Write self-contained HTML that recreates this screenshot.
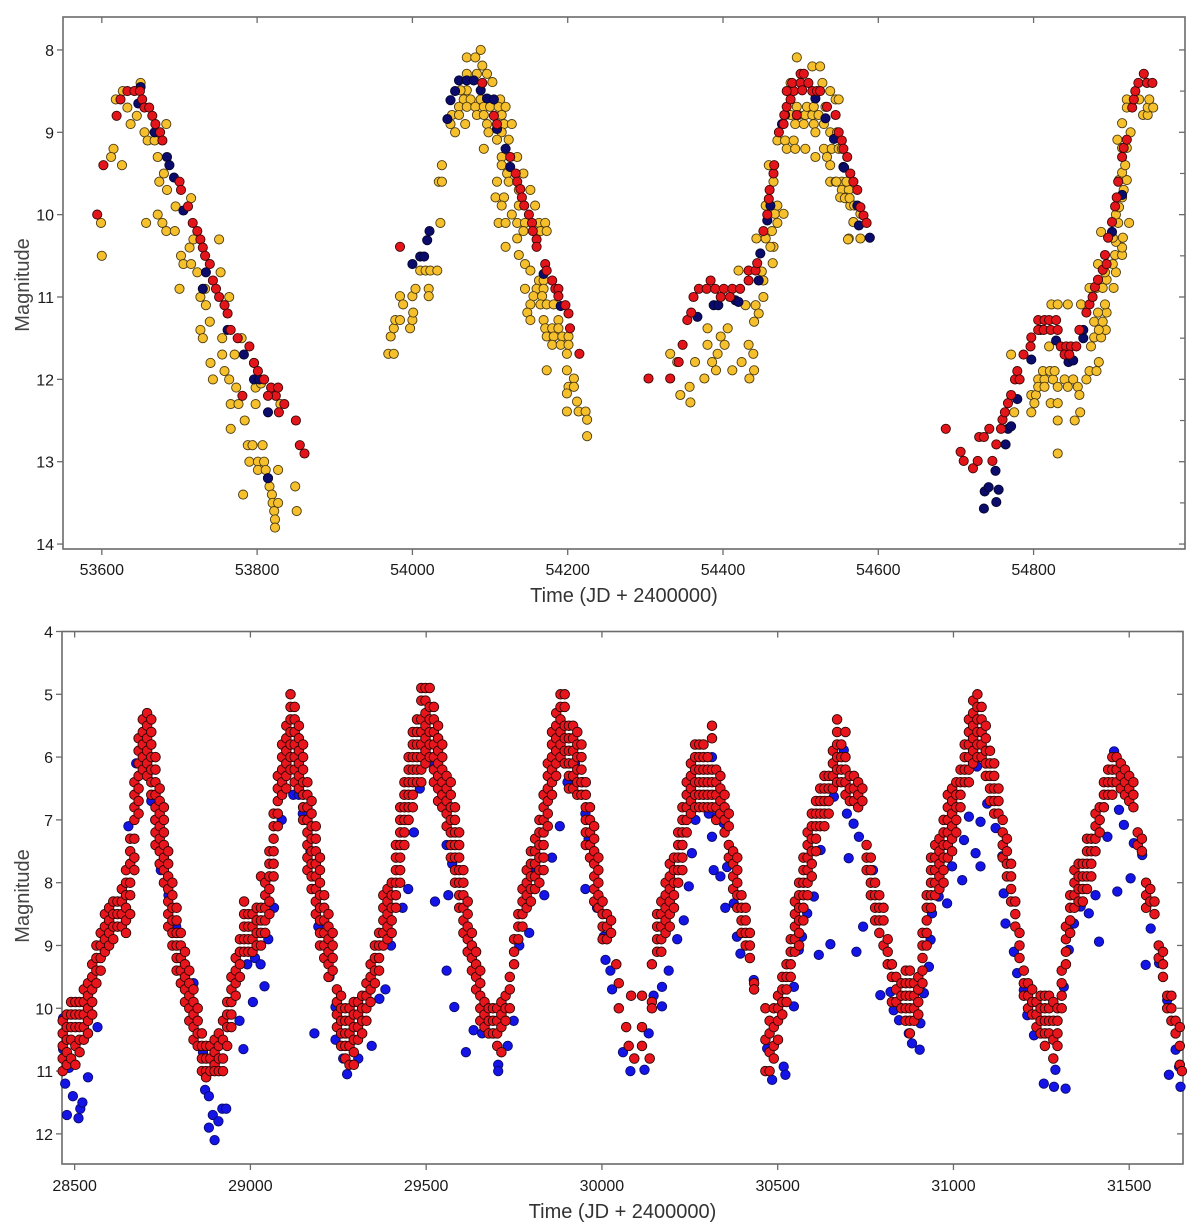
<!DOCTYPE html>
<html><head><meta charset="utf-8"><style>
html,body{margin:0;padding:0;background:#fff;}
svg{display:block;}
text{font-family:"Liberation Sans",Arial,sans-serif;}
</style></head><body>
<svg id="chart" width="1200" height="1222" viewBox="0 0 1200 1222" xmlns="http://www.w3.org/2000/svg">
<rect x="0" y="0" width="1200" height="1222" fill="#fff"/>
<g id="top-panel"></g>
<g id="bottom-panel"></g>
</svg>
<script>
// ---------- TOP PANEL DATA ----------
const topXTicks = [53600, 53800, 54000, 54200, 54400, 54600, 54800];
const topYTicks = [8, 9, 10, 11, 12, 13, 14];
const topYellow = [
[53599,10.1],[53600,10.5],[53615,9.2],[53612,9.3],[53626,9.4],[53618,8.6],[53627,8.5],[53633,8.7],[53637,8.9],[53645,8.8],[53650,8.4],[53655,9.0],[53659,9.1],[53657,10.1],[53668,9.1],[53672,9.3],[53672,10.0],[53674,9.6],[53680,9.5],[53683,8.9],[53684,9.7],[53678,10.1],[53683,10.2],[53694,10.2],[53695,9.9],[53702,10.5],[53705,10.6],[53700,10.9],[53715,10.6],[53713,10.4],[53715,9.8],[53718,10.3],[53723,10.7],[53727,11.0],[53733,10.9],[53727,11.4],[53734,11.1],[53739,11.3],[53740,11.8],[53743,12.0],[53730,11.5],[53751,10.3],[53753,10.7],[53755,11.5],[53755,11.7],[53758,11.9],[53764,11.0],[53764,12.0],[53766,12.3],[53766,12.6],[53771,11.7],[53773,12.1],[53776,12.3],[53780,11.5],[53784,12.5],[53782,13.4],[53788,12.8],[53790,13.0],[53794,12.8],[53796,11.8],[53798,12.1],[53798,12.3],[53801,13.0],[53801,13.1],[53807,12.8],[53809,13.0],[53811,13.1],[53814,13.2],[53816,13.3],[53819,13.4],[53820,13.5],[53822,13.6],[53823,13.7],[53823,13.8],[53827,13.5],[53827,13.1],[53830,12.3],[53849,13.3],[53851,13.6],[53805,12.05],
[53969,11.69],[53976,11.69],[53972,11.48],[53976,11.38],[53978,11.28],[53984,11.28],[53984,10.99],[53988,11.09],[54000,10.99],[53997,11.38],[54000,11.28],[54001,11.19],[54004,10.9],[54010,10.68],[54017,10.68],[54023,10.68],[54032,10.68],[54021,10.9],[54021,10.99],[54036,10.1],[54034,9.6],[54038,9.6],[54038,9.4],
[54088,8.0],[54070,8.09],[54081,8.09],[54090,8.19],[54070,8.29],[54083,8.29],[54096,8.29],[54103,8.39],[54070,8.49],[54062,8.49],[54066,8.6],[54075,8.6],[54088,8.6],[54098,8.6],[54113,8.6],[54060,8.69],[54070,8.69],[54081,8.69],[54092,8.69],[54100,8.69],[54111,8.69],[54120,8.69],[54051,8.79],[54060,8.79],[54083,8.79],[54092,8.79],[54115,8.79],[54049,8.9],[54068,8.9],[54096,8.9],[54118,8.9],[54128,8.9],[54055,9.0],[54098,9.0],[54115,9.0],[54109,9.09],[54124,9.09],[54092,9.2],[54115,9.3],[54135,9.3],[54115,9.4],[54122,9.5],[54143,9.5],[54109,9.6],[54124,9.6],[54137,9.7],[54152,9.7],[54107,9.79],[54118,9.79],[54115,9.89],[54137,9.89],[54158,9.89],[54128,10.0],[54111,10.1],[54120,10.1],[54135,10.1],[54145,10.1],[54163,10.1],[54171,10.1],[54143,10.2],[54165,10.2],[54173,10.2],[54135,10.29],[54120,10.39],[54137,10.49],[54145,10.6],[54152,10.68],[54163,10.8],[54169,10.8],[54145,10.9],[54160,10.9],[54169,10.9],[54156,10.99],[54167,10.99],[54152,11.09],[54165,11.09],[54173,11.09],[54182,11.09],[54148,11.19],[54152,11.28],[54169,11.28],[54188,11.28],[54171,11.38],[54180,11.38],[54188,11.38],[54173,11.48],[54182,11.48],[54193,11.48],[54201,11.48],[54180,11.58],[54191,11.58],[54201,11.58],[54199,11.69],[54173,11.89],[54199,11.89],[54208,11.99],[54201,12.09],[54208,12.09],[54199,12.17],[54212,12.27],[54199,12.39],[54214,12.39],[54223,12.39],[54225,12.49],[54225,12.69],
[54345,12.19],[54358,12.28],[54357,12.09],[54332,11.69],[54341,11.79],[54364,11.79],[54376,11.99],[54380,11.58],[54380,11.38],[54391,11.89],[54386,11.79],[54393,11.69],[54397,11.48],[54406,11.38],[54402,11.58],[54412,11.89],[54424,11.79],[54433,11.58],[54439,11.69],[54440,11.89],[54434,11.99],[54429,11.1],[54442,11.1],[54440,11.3],[54446,11.2],[54452,11.0],[54452,10.8],[54420,10.68],[54450,10.69],[54464,10.59],[54465,10.39],[54461,10.39],[54443,10.29],[54455,10.29],[54463,10.2],[54470,10.1],[54467,9.99],[54478,9.99],[54470,9.89],[54455,9.89],[54465,9.6],[54459,9.4],[54470,9.1],[54480,9.1],[54491,9.1],[54482,9.2],[54493,9.2],[54506,9.2],[54487,8.79],[54497,8.79],[54506,8.79],[54515,8.79],[54523,8.79],[54530,8.9],[54493,8.9],[54504,8.9],[54517,8.9],[54495,8.69],[54508,8.69],[54517,8.69],[54532,8.69],[54545,8.6],[54549,8.6],[54538,8.5],[54528,8.4],[54515,8.2],[54525,8.2],[54495,8.09],[54487,8.4],[54519,9.0],[54538,9.0],[54547,9.0],[54530,9.2],[54540,9.2],[54549,9.2],[54519,9.3],[54534,9.3],[54538,9.4],[54538,9.6],[54545,9.6],[54553,9.6],[54553,9.7],[54562,9.7],[54551,9.79],[54558,9.79],[54564,9.89],[54577,9.99],[54568,10.09],[54562,10.29],[54577,10.29],[54553,9.2],[54546,9.6],[54559,9.6],[54557,9.8],[54563,9.8],[54569,9.89],[54561,10.3],[54568,10.09],
[54831,12.9],[54797,12.4],[54775,12.4],[54797,12.19],[54803,12.19],[54801,12.29],[54771,11.7],[54806,12.0],[54814,12.0],[54825,12.0],[54840,12.0],[54851,12.0],[54806,12.09],[54814,12.09],[54831,12.09],[54844,12.09],[54857,12.09],[54812,11.9],[54821,11.9],[54827,11.9],[54822,12.29],[54831,12.29],[54859,12.19],[54831,12.5],[54853,12.5],[54860,12.4],[54868,12.0],[54872,11.9],[54881,11.9],[54884,11.79],[54874,11.6],[54878,11.49],[54887,11.49],[54893,11.4],[54884,11.4],[54878,11.3],[54889,11.3],[54894,11.19],[54883,11.19],[54892,11.09],[54823,11.09],[54831,11.09],[54844,11.09],[54861,11.09],[54820,11.6],[54872,10.89],[54881,10.89],[54889,10.89],[54894,10.79],[54903,10.89],[54892,10.7],[54906,10.7],[54883,10.6],[54902,10.6],[54905,10.49],[54914,10.49],[54914,10.4],[54906,10.33],[54887,10.21],[54902,10.28],[54915,10.28],[54909,10.1],[54923,10.1],[54906,10.0],[54910,9.91],[54914,9.79],[54916,9.7],[54910,9.58],[54920,9.58],[54914,9.49],[54918,9.4],[54914,9.19],[54920,9.19],[54908,9.09],[54925,9.0],[54914,8.89],[54920,8.6],[54920,8.7],[54941,8.79],[54947,8.79],[54947,8.7],[54954,8.7],[54949,8.6],[54936,8.6]
];
const topNavy = [
[53650,8.45],[53647,8.65],[53668,9.0],[53684,9.3],[53687,9.4],[53693,9.55],[53705,9.95],[53730,10.9],[53734,10.7],[53762,11.4],[53783,11.7],[53796,12.0],[53803,12.0],[53814,12.4],[53814,13.2],
[54022,10.2],[54019,10.31],[54010,10.51],[54015,10.51],[54000,10.6],[54045,8.84],[54049,8.61],[54055,8.5],[54060,8.37],[54070,8.37],[54079,8.37],[54088,8.49],[54096,8.59],[54105,8.6],[54109,8.96],[54120,9.2],[54126,9.42],[54169,10.72],[54191,11.11],
[54367,11.24],[54388,11.1],[54394,11.1],[54416,11.04],[54420,11.06],[54457,10.07],[54448,10.47],[54461,9.89],[54476,8.9],[54480,8.79],[54519,8.59],[54532,8.83],[54543,9.08],[54555,9.42],[54573,9.89],[54575,10.13],[54589,10.28],[54446,10.8],[54556,9.43],
[54736,13.57],[54737,13.36],[54742,13.31],[54752,13.49],[54755,13.34],[54751,13.11],[54764,12.79],[54767,12.6],[54771,12.57],[54779,12.24],[54797,11.76],[54809,11.4],[54829,11.53],[54845,11.79],[54851,11.77],[54864,11.5],[54864,11.4],[54901,10.21],[54914,9.76]
];
const topRed = [
[53594,10.0],[53602,9.4],[53619,8.8],[53624,8.6],[53633,8.5],[53642,8.5],[53649,8.5],[53652,8.6],[53655,8.7],[53661,8.7],[53665,8.8],[53669,8.9],[53675,9.0],[53678,9.1],[53700,9.6],[53702,9.7],[53711,9.9],[53717,10.1],[53723,10.2],[53727,10.3],[53730,10.4],[53733,10.5],[53739,10.6],[53743,10.8],[53747,10.9],[53751,11.0],[53758,11.1],[53762,11.2],[53766,11.4],[53775,11.5],[53790,11.6],[53796,11.8],[53801,11.9],[53809,12.0],[53818,12.1],[53824,12.2],[53828,12.4],[53835,12.3],[53850,12.5],[53855,12.8],[53861,12.9],[53781,12.2],[53827,12.1],[53814,12.2],
[53984,10.39],[54090,8.4],[54105,8.8],[54109,8.9],[54126,9.3],[54133,9.5],[54135,9.6],[54139,9.69],[54141,9.79],[54144,9.89],[54150,10.0],[54154,10.1],[54155,10.2],[54160,10.3],[54160,10.39],[54171,10.6],[54173,10.68],[54180,10.8],[54184,10.9],[54188,10.9],[54188,10.99],[54197,11.1],[54201,11.2],[54203,11.38],[54215,11.69],
[54304,11.99],[54332,11.99],[54343,11.79],[54348,11.58],[54354,11.28],[54359,11.19],[54362,11.0],[54369,10.9],[54379,10.9],[54390,10.9],[54401,10.9],[54412,10.9],[54422,10.9],[54384,10.8],[54397,11.0],[54409,11.0],[54433,10.8],[54433,10.68],[54442,10.68],[54444,10.59],[54452,10.2],[54457,10.0],[54459,9.81],[54460,9.7],[54465,9.5],[54466,9.4],[54472,9.0],[54478,8.9],[54479,8.79],[54482,8.69],[54487,8.6],[54491,8.5],[54489,8.4],[54500,8.4],[54510,8.4],[54500,8.29],[54504,8.29],[54515,8.5],[54521,8.5],[54525,8.5],[54534,8.69],[54545,8.79],[54549,9.0],[54553,9.1],[54555,9.2],[54560,9.3],[54564,9.5],[54568,9.6],[54573,9.7],[54577,9.91],[54581,10.01],[54585,10.1],[54502,8.49],[54482,8.5],[54495,8.79],
[54687,12.6],[54706,12.88],[54710,12.99],[54722,13.08],[54728,12.99],[54730,12.7],[54736,12.7],[54743,12.6],[54747,12.99],[54752,12.79],[54758,12.6],[54760,12.49],[54763,12.4],[54767,12.29],[54771,12.19],[54776,12.0],[54779,11.9],[54782,12.0],[54787,11.7],[54796,11.6],[54797,11.49],[54806,11.4],[54806,11.28],[54814,11.28],[54820,11.28],[54829,11.28],[54813,11.4],[54822,11.4],[54831,11.4],[54835,11.6],[54842,11.6],[54848,11.6],[54855,11.6],[54840,11.7],[54846,11.7],[54859,11.4],[54868,11.19],[54872,11.09],[54876,11.0],[54879,10.88],[54883,10.79],[54889,10.67],[54892,10.49],[54894,10.6],[54896,10.28],[54901,10.09],[54905,9.9],[54907,9.79],[54909,9.6],[54914,9.3],[54916,9.19],[54920,9.09],[54927,8.7],[54929,8.6],[54931,8.5],[54935,8.4],[54942,8.29],[54946,8.4],[54953,8.4]
];

// ---------- BOTTOM PANEL DATA ----------
const botXTicks = [28500, 29000, 29500, 30000, 30500, 31000, 31500];
const botYTicks = [4, 5, 6, 7, 8, 9, 10, 11, 12];
// rows: [time, magnitude, magnitude, ...]
const redCycle1 = [
[28466,10.2,10.4,10.6,10.8,11.0],[28478,10.1,10.3,10.5,10.7,10.9],[28490,9.9,10.1,10.3,10.5,10.8],[28502,9.9,10.1,10.3,10.6,10.9],[28514,9.9,10.1,10.3,10.5,10.7],[28526,9.7,9.9,10.1,10.3,10.5],[28538,9.6,9.8,10.0,10.2,10.4],[28550,9.3,9.5,9.7,9.9,10.1],[28562,9.0,9.2,9.4,9.6],[28574,8.8,9.0,9.2,9.4],[28586,8.5,8.7,8.9,9.1],[28598,8.4,8.6,8.8,9.0],[28610,8.3,8.5,8.7,8.9],[28622,8.3,8.5,8.7],[28634,8.1,8.3,8.5,8.7],[28646,7.8,8.0,8.2,8.4,8.6,8.8],[28658,7.3,7.5,7.7,8.0,8.2,8.5],[28670,6.4,6.6,6.8,7.0,7.3,7.6,7.8],[28682,5.7,5.9,6.1,6.3,6.5,6.7,6.9],[28694,5.4,5.6,5.8,6.0,6.2],[28706,5.3,5.5,5.7,5.9,6.1,6.3],[28718,5.4,5.6,5.8,6.0,6.2,6.4,6.6],[28730,6.0,6.2,6.4,6.6,6.8,7.0,7.2,7.4],[28742,6.5,6.7,6.9,7.1,7.3,7.5,7.7],[28754,6.8,7.0,7.2,7.4,7.6,7.8,8.0],[28766,7.5,7.7,7.9,8.1,8.3,8.5,8.7],[28778,8.0,8.2,8.4,8.6,8.8,9.0],[28790,8.4,8.6,8.8,9.0,9.2,9.4],[28802,8.8,9.0,9.2,9.4,9.6],[28814,9.1,9.3,9.5,9.7,9.9],[28826,9.4,9.6,9.8,10.0,10.2],[28838,9.7,9.9,10.1,10.3,10.5],[28850,10.0,10.2,10.4,10.6],[28862,10.4,10.6,10.8,11.0],[28874,10.6,10.8,11.0,11.1],[28886,10.6,10.8,11.0],[28898,10.5,10.7,10.9,11.0]
];
const redCycle2 = [
[28910,10.4,10.6,10.8,11.0],[28922,10.2,10.5,10.8,11.0],[28934,9.9,10.1,10.3,10.6],[28946,9.5,9.7,9.9,10.1,10.3],[28958,9.2,9.4,9.6,9.8],[28970,8.9,9.1,9.3,9.5],[28982,8.3,8.5,8.7,8.9,9.1],[28994,8.5,8.7,8.9,9.1],[29006,8.5,8.7,8.9,9.1],[29018,8.4,8.6,8.8,9.0],[29030,7.9,8.4,8.6,8.8,9.0],[29042,8.0,8.2,8.4,8.6,8.8],[29054,7.5,7.7,7.9,8.1,8.3,8.5],[29066,6.9,7.1,7.3,7.5,7.7,7.9],[29078,6.3,6.5,6.7,6.9,7.1],[29090,5.8,6.0,6.2,6.4,6.6],[29102,5.5,5.7,5.9,6.1,6.3,6.5],[29114,5.0,5.2,5.4,5.6,5.8,6.0,6.2],[29126,5.2,5.4,5.6,5.8,6.0,6.2,6.4],[29138,5.5,5.7,5.9,6.1,6.3,6.5],[29150,5.8,6.0,6.2,6.4,6.6,6.8,7.0],[29162,6.4,6.6,6.8,7.0,7.2,7.4,7.6,7.8],[29174,6.7,6.9,7.1,7.3,7.5,7.7,7.9,8.1],[29186,7.1,7.3,7.5,7.7,7.9,8.1,8.3,8.5],[29198,7.6,7.8,8.0,8.2,8.4,8.6,8.8,9.0],[29210,8.2,8.4,8.6,8.8,9.0,9.2],[29222,8.5,8.7,8.9,9.1,9.3,9.5],[29234,8.8,9.0,9.2,9.4],[29246,9.7,9.9,10.1,10.3],[29258,9.8,10.0,10.2,10.4,10.6],[29270,10.0,10.2,10.4,10.6,10.8],[29282,10.0,10.2,10.4,10.6,10.9],[29294,9.9,10.1,10.3,10.5,10.7,10.9]
];
const redCycle3 = [
[29306,9.9,10.1,10.3,10.5],[29318,9.8,10.0,10.2,10.4],[29330,9.6,9.8,10.0,10.2],[29342,9.3,9.5,9.7,9.9],[29354,9.0,9.2,9.4,9.6],[29366,8.8,9.0,9.2,9.4],[29378,8.2,8.4,8.6,8.8,9.0],[29390,8.1,8.3,8.5,8.7,8.9],[29402,8.0,8.2,8.4,8.6,8.8],[29414,7.4,7.6,7.8,8.0,8.2,8.4],[29426,6.8,7.0,7.2,7.4,7.6,7.8,8.0],[29438,6.4,6.6,6.8,7.0,7.2,7.4],[29450,6.0,6.2,6.4,6.6,6.8,7.0],[29462,5.6,5.8,6.0,6.2,6.4,6.6,6.8],[29474,5.4,5.6,5.8,6.0,6.2,6.4],[29486,4.9,5.1,5.4,5.6,5.8,6.0,6.2,6.4],[29498,4.9,5.1,5.3,5.5,5.7,5.9,6.1],[29510,4.9,5.2,5.4,5.6,5.8,6.0],[29522,5.2,5.4,5.6,5.8,6.0,6.2,6.4],[29534,5.5,5.7,5.9,6.1,6.3,6.5,6.7],[29546,5.8,6.0,6.2,6.4,6.6,6.8],[29558,6.3,6.5,6.7,6.9,7.1],[29570,6.4,6.6,6.8,7.0,7.2,7.4,7.6],[29582,6.8,7.0,7.2,7.4,7.6,7.8,8.0],[29594,7.2,7.4,7.6,7.8,8.0,8.2,8.4],[29606,7.8,8.0,8.2,8.4,8.6,8.8],[29618,8.3,8.5,8.7,8.9,9.1],[29630,8.8,9.0,9.2,9.4],[29642,9.1,9.3,9.5,9.7],[29654,9.4,9.6,9.8,10.0,10.2],[29666,9.9,10.1,10.3],[29678,10.0,10.2,10.4],[29690,10.0,10.2,10.4],[29702,10.0,10.2,10.4,10.6],[29714,9.9,10.1,10.3,10.7],[29726,9.8,10.0,10.2],[29738,9.5,9.7,10.0]
];
const redCycle4 = [
[29750,8.9,9.1,9.3],[29762,8.5,8.7,8.9],[29774,8.1,8.3,8.5,8.7],[29786,7.8,8.0,8.2,8.4],[29798,7.5,7.7,7.9,8.1,8.3],[29810,7.3,7.5,7.7,7.9,8.1],[29822,7.0,7.2,7.4,7.6,7.8,8.0],[29834,6.6,6.8,7.0,7.2,7.4,7.6,7.8],[29846,6.1,6.3,6.5,6.7,6.9,7.1],[29858,5.6,5.8,6.0,6.2,6.4,6.6],[29870,5.3,5.5,5.7,5.9,6.1,6.3],[29882,5.0,5.2,5.4,5.6,5.8,6.0],[29894,5.0,5.2,5.5,5.7,5.9,6.1],[29906,5.5,5.7,5.9,6.1,6.3,6.5],[29918,5.5,5.7,5.9,6.1,6.3,6.5],[29930,5.6,5.8,6.0,6.2,6.4,6.6],[29942,5.8,6.0,6.2,6.4,6.6],[29954,6.4,6.6,6.8,7.0,7.2,7.4],[29966,6.8,7.0,7.2,7.4,7.6],[29978,7.1,7.3,7.5,7.7,7.9,8.1,8.3],[29990,7.6,7.8,8.0,8.2,8.4],[30002,8.3,8.5,8.7,8.9],[30014,8.5,8.7,8.9],[30026,8.6,8.8],[30041,9.3],[30048,9.6,10.0],[30069,10.3],[30076,10.6],[30083,9.8],[30092,10.8],[30114,9.8,10.3,10.6],[30136,10.8],[30142,9.3,9.9,10.0]
];
const redCycle5 = [
[30157,8.5,8.7,8.9,9.1],[30169,8.3,8.5,8.7,8.9,9.1],[30181,8.0,8.2,8.4,8.6,8.8],[30193,7.7,7.9,8.1,8.3,8.5,8.7],[30205,7.6,7.8,8.0,8.2,8.4],[30217,7.2,7.4,7.6,7.8,8.0],[30229,6.8,7.0,7.2,7.4,7.6,7.8],[30241,6.4,6.6,6.8,7.0,7.2],[30253,6.1,6.3,6.5,6.7,6.9],[30265,5.8,6.0,6.2,6.4,6.6,6.8],[30277,5.8,6.0,6.2,6.4,6.6,6.8],[30289,5.8,6.0,6.2,6.4,6.6,6.8],[30301,6.0,6.2,6.4,6.6,6.8],[30313,5.5,5.7,6.2,6.4,6.6,6.8],[30325,6.2,6.4,6.6,6.8,7.0],[30337,6.3,6.5,6.7,6.9],[30349,6.6,6.8,7.0,7.2],[30361,6.9,7.1,7.4,7.6],[30373,7.5,7.7,7.9,8.1],[30385,7.6,7.8,8.0,8.2,8.4],[30397,8.2,8.4,8.6,8.8],[30409,8.4,8.6,8.8,9.0],[30421,8.8,9.0,9.2],[30433,9.6,9.7]
];
const redCycle6 = [
[30465,10.0,10.5,11.0],[30477,10.2,10.4,10.7,11.0],[30489,10.0,10.3,10.6,10.8],[30501,9.8,10.0,10.2,10.5],[30513,9.5,9.7,9.9,10.1],[30525,9.3,9.5,9.7,9.9],[30537,8.9,9.1,9.3,9.5],[30549,8.3,8.5,8.7,8.9,9.1],[30561,8.0,8.2,8.4,8.6,8.8,9.0],[30573,7.6,7.8,8.0,8.2,8.4,8.6],[30585,7.2,7.4,7.6,7.8,8.0,8.2],[30597,6.9,7.1,7.3,7.5,7.7,7.9],[30609,6.7,6.9,7.1,7.3,7.5],[30621,6.5,6.7,6.9,7.1],[30633,6.3,6.5,6.7,6.9,7.1],[30645,6.3,6.5,6.7,6.9],[30657,5.9,6.1,6.3,6.5],[30669,5.4,5.6,5.8,6.0,6.2,6.4],[30681,5.8,6.0,6.2,6.4],[30693,5.6,6.0,6.2,6.4,6.6],[30705,6.3,6.5,6.7],[30717,6.3,6.5,6.7],[30729,6.4,6.6,6.8],[30741,6.5,6.7],[30753,7.4,7.6,7.8],[30765,7.6,7.8,8.0,8.2],[30777,8.0,8.2,8.4,8.6],[30789,8.2,8.4,8.6,8.8],[30801,8.4,8.6,9.0],[30813,8.9,9.1,9.3],[30825,9.3,9.5,9.9],[30837,9.5,9.7,9.9]
];
const redCycle7 = [
[30852,9.6,9.8,10.0],[30864,9.4,9.6,9.8,10.0,10.2],[30876,9.4,9.6,9.8,10.0,10.2,10.4],[30888,9.6,9.8,10.0,10.2],[30900,9.5,9.7,9.9,10.1],[30912,8.8,9.0,9.2,9.4,9.6],[30924,8.2,8.4,8.6,8.8,9.0],[30936,7.6,7.8,8.0,8.2,8.4],[30948,7.4,7.6,7.8,8.0,8.2],[30960,7.3,7.5,7.7,7.9,8.1],[30972,7.0,7.2,7.4,7.6,7.8,8.0],[30984,6.6,6.8,7.0,7.2,7.4,7.6],[30996,6.5,6.7,6.9,7.1,7.3,7.5],[31008,6.4,6.6,6.8,7.0,7.2],[31020,6.2,6.4,6.6,6.8],[31032,5.8,6.0,6.2,6.4],[31044,5.4,5.6,5.8,6.0,6.2,6.4],[31056,5.1,5.3,5.5,5.7,5.9,6.1],[31068,5.0,5.2,5.4,5.6,5.8,6.0],[31080,5.2,5.4,5.6,5.8,6.0],[31092,5.5,5.7,5.9,6.1,6.3],[31104,5.9,6.1,6.3,6.5,6.7],[31116,6.1,6.3,6.5,6.7,6.9],[31128,6.5,6.7,6.9],[31140,7.0,7.2,7.4,7.6],[31152,7.3,7.5,7.7,7.9],[31164,7.7,7.9,8.1,8.3],[31176,8.3,8.5,8.7],[31188,8.8,9.0,9.2],[31200,9.4,9.6,9.8],[31212,9.6,9.8,10.0],[31224,9.7,9.9,10.1],[31236,9.9,10.1,10.3],[31248,9.8,10.0,10.2,10.4],[31260,9.8,10.0,10.2,10.4,10.6],[31272,9.8,10.0,10.2,10.4],[31284,9.9,10.2,10.5,10.8],[31296,10.0,10.2,10.4,10.6],[31308,9.4,9.6,9.8,10.0]
];
const redCycle8 = [
[31320,8.7,8.9,9.1,9.3],[31332,8.2,8.4,8.6,8.8],[31344,7.8,8.0,8.2,8.4],[31356,7.7,7.9,8.1,8.3],[31368,7.7,7.9,8.1,8.3],[31380,7.3,7.5,7.7,7.9,8.1],[31392,7.3,7.5,7.7,7.9],[31404,6.9,7.1,7.3,7.5],[31416,6.8,7.0,7.2],[31428,6.4,6.6,6.8],[31440,6.2,6.4,6.6],[31452,6.0,6.2,6.4,6.6],[31464,6.0,6.2,6.4],[31476,6.1,6.3,6.5],[31488,6.2,6.4,6.6],[31500,6.3,6.5,6.7],[31512,6.4,6.6,6.8],[31524,7.2,7.4],[31536,7.3,7.5],[31548,8.0,8.2,8.4],[31560,8.1,8.3],[31572,8.3,8.5],[31584,9.0,9.2],[31596,9.1,9.3,9.5],[31608,9.8,10.0],[31620,9.8,10.0,10.2],[31632,10.2,10.4],[31644,10.3,10.6,10.9],[31650,11.0]
];
const bluePoints = [
[28467,10.16],[28467,10.65],[28473,11.2],[28478,11.7],[28495,11.4],[28484,10.95],[28511,11.75],[28516,11.6],[28538,11.1],[28522,11.5],[28565,10.3],[28653,7.1],[28675,6.1],[28707,6.3],[28718,6.7],[28729,7.0],[28740,7.4],[28745,7.8],[28767,8.2],[28789,8.7],[28800,9.2],[28822,9.4],[28838,9.6],[28844,10.2],[28865,10.7],[28871,11.3],[28882,11.4],[28882,11.9],[28893,11.7],[28898,12.1],[28909,11.8],[28920,11.6],[28931,11.6],[28969,10.2],[28980,10.65],[28991,9.3],[29013,9.2],[29029,9.3],[29040,9.65],[29007,9.9],[29051,8.9],[29067,8.4],[29089,7.0],[29122,6.6],[29138,6.6],[29149,6.9],[29160,7.0],[29171,7.5],[29176,8.1],[29193,8.7],[29214,9.2],[29225,9.5],[29242,9.98],[29242,10.5],[29264,10.8],[29275,11.05],[29182,10.4],[29307,10.8],[29345,10.6],[29367,9.85],[29384,9.7],[29400,9.0],[29433,8.4],[29449,8.1],[29465,7.2],[29482,6.5],[29498,6.1],[29520,6.1],[29525,8.3],[29552,6.6],[29558,7.4],[29574,7.7],[29563,8.2],[29558,9.4],[29580,9.98],[29618,9.1],[29635,10.35],[29613,10.7],[29659,10.4],[29705,10.9],[29705,11.0],[29732,10.6],[29749,10.2],[29765,9.0],[29793,8.8],[29814,7.8],[29836,8.2],[29858,7.6],[29880,7.1],[29902,6.4],[29923,6.1],[29945,6.4],
[29953,6.9],[29962,7.3],[29976,7.6],[29953,8.1],[29986,8.4],[30005,8.86],[30010,9.23],[30024,9.4],[30029,9.7],[30060,10.7],[30081,11.0],[30121,10.98],[30133,10.4],[30147,9.8],[30171,9.97],[30171,9.66],[30190,9.4],[30214,8.9],[30233,8.6],[30247,8.06],[30256,7.53],[30266,7.0],[30313,6.0],[30304,6.9],[30327,6.95],[30346,7.05],[30313,7.27],[30318,7.8],[30337,7.9],[30351,8.4],[30356,7.75],[30375,8.33],[30384,8.86],[30394,9.13],[30432,9.55],[30470,10.64],[30484,11.14],[30517,10.93],[30522,11.06],[30546,9.97],[30546,9.66],[30560,9.07],[30569,8.86],[30584,8.49],[30603,8.22],[30617,9.15],[30650,8.98],[30622,7.48],[30660,6.63],[30688,5.89],[30697,6.9],[30716,7.06],[30731,7.27],[30702,7.61],[30724,9.1],[30743,8.7],[30771,7.8],
[30792,9.79],[30821,9.74],[30821,9.31],[30830,10.03],[30845,10.19],[30873,10.4],[30882,10.56],[30904,10.66],[30906,10.24],[30916,9.76],[30930,9.34],[30935,8.91],[30939,8.49],[30958,8.22],[30982,8.33],[30996,7.74],[31025,7.96],[31030,7.32],[31044,6.95],[31063,7.53],[31077,7.74],[31067,6.15],[31077,7.03],[31096,6.74],[31120,7.13],[31139,7.58],[31143,8.17],[31148,8.65],[31172,9.1],[31181,9.44],[31200,9.71],[31210,10.11],[31229,10.43],[31257,11.2],[31286,11.25],[31319,11.28],[31290,10.98],[31314,9.66],[31328,9.07],[31343,8.65],[31362,8.38],[31385,8.49],[31414,8.94],[31404,8.2],[31438,7.27],[31457,5.91],[31466,8.14],[31471,6.84],[31485,7.08],[31504,7.93],[31513,7.37],[31537,7.56],[31547,9.31],[31561,8.73],[31585,9.28],[31608,9.87],[31613,11.06],[31632,10.66],[31642,10.93],[31646,11.25]
];

// ---------- RENDERING ----------
const NS = 'http://www.w3.org/2000/svg';
function mk(tag, attrs, parent) {
  const el = document.createElementNS(NS, tag);
  for (const k in attrs) el.setAttribute(k, attrs[k]);
  parent.appendChild(el);
  return el;
}
function scale(d0, d1, r0, r1) { return v => r0 + (v - d0) * (r1 - r0) / (d1 - d0); }

const topBox = {l: 63, r: 1185, t: 17, b: 549};
const topX = scale(53550, 54995, topBox.l, topBox.r);
const topY = scale(7.6, 14.06, topBox.t, topBox.b);
const botBox = {l: 62, r: 1183, t: 631.5, b: 1164};
const botX = scale(28464, 31653, botBox.l, botBox.r);
const botY = scale(4, 12.48, botBox.t, botBox.b);

function drawAxes(g, box, xs, ys, xTicks, yTicks, xLabelY, titleY, yTitleY, minorY, prefix) {
  const frame = mk('rect', {x: box.l, y: box.t, width: box.r - box.l, height: box.b - box.t, fill: 'none', stroke: '#6b6b6b', 'stroke-width': 1.6}, g);
  
  
  xTicks.forEach(v => {
    const x = xs(v);
    const t1 = mk('line', {x1: x, x2: x, y1: box.b, y2: box.b + 6, stroke: '#6b6b6b', 'stroke-width': 1.3}, g);
    
    
    const t2 = mk('line', {x1: x, x2: x, y1: box.t, y2: box.t + 6, stroke: '#6b6b6b', 'stroke-width': 1.3}, g);
    
    
    const lb = mk('text', {x: x, y: xLabelY, 'text-anchor': 'middle', 'font-size': 16, fill: '#1a1a1a'}, g);
    lb.textContent = v;
    
    
  });
  yTicks.forEach(v => {
    const y = ys(v);
    const t1 = mk('line', {x1: box.l - 6, x2: box.l, y1: y, y2: y, stroke: '#6b6b6b', 'stroke-width': 1.3}, g);
    
    
    const t2 = mk('line', {x1: box.r - 6, x2: box.r, y1: y, y2: y, stroke: '#6b6b6b', 'stroke-width': 1.3}, g);
    
    
    const lb = mk('text', {x: box.l - 9, y: y + 6, 'text-anchor': 'end', 'font-size': 16, fill: '#1a1a1a'}, g);
    lb.textContent = v;
    
    
  });
  minorY.forEach(v => {
    const y = ys(v);
    const t = mk('line', {x1: box.r - 5, x2: box.r, y1: y, y2: y, stroke: '#6b6b6b', 'stroke-width': 1.2}, g);
    
    
  });
  const xt = mk('text', {x: (box.l + box.r) / 2, y: titleY, 'text-anchor': 'middle', 'font-size': 20, fill: '#333'}, g);
  xt.textContent = 'Time (JD + 2400000)';
  
  
  const yt = mk('text', {x: 0, y: 0, 'text-anchor': 'middle', 'font-size': 20, fill: '#444', transform: 'translate(29,' + yTitleY + ') rotate(-90)'}, g);
  yt.textContent = 'Magnitude';
  
  
}

function drawPoints(g, pts, xs, ys, fill, stroke, r, name) {
  pts.forEach(p => {
    const c = mk('circle', {cx: xs(p[0]).toFixed(1), cy: ys(p[1]).toFixed(1), r: r, fill: fill, stroke: stroke, 'stroke-width': 0.9}, g);
    
    
  });
}
function drawRows(g, rows, xs, ys, fill, stroke, r, name) {
  rows.forEach(row => {
    for (let i = 1; i < row.length; i++) {
      const c = mk('circle', {cx: xs(row[0]).toFixed(1), cy: ys(row[i]).toFixed(1), r: r, fill: fill, stroke: stroke, 'stroke-width': 0.9}, g);
      
      
    }
  });
}

const gTop = document.getElementById('top-panel');
const gBot = document.getElementById('bottom-panel');

drawAxes(gTop, topBox, topX, topY, topXTicks, topYTicks, 575, 602, 285, [8.5, 9.5, 10.5, 11.5, 12.5, 13.5], 'top');
drawPoints(gTop, topYellow, topX, topY, '#f6c02c', '#4a3a10', 4.6, 'yellow-observation-point');
drawPoints(gTop, topNavy, topX, topY, '#0b0b6b', '#05052e', 4.6, 'navy-observation-point');
drawPoints(gTop, topRed, topX, topY, '#e3151b', '#3a0606', 4.6, 'red-observation-point');

drawAxes(gBot, botBox, botX, botY, botXTicks, botYTicks, 1191, 1218, 896, [], 'bottom');
drawPoints(gBot, bluePoints, botX, botY, '#1414e6', '#0a0a70', 4.7, 'blue-observation-point');
[redCycle1, redCycle2, redCycle3, redCycle4, redCycle5, redCycle6, redCycle7, redCycle8].forEach(rows => {
  drawRows(gBot, rows, botX, botY, '#e8161c', '#2a0505', 4.8, 'red-observation-point');
});
</script>
</body></html>
